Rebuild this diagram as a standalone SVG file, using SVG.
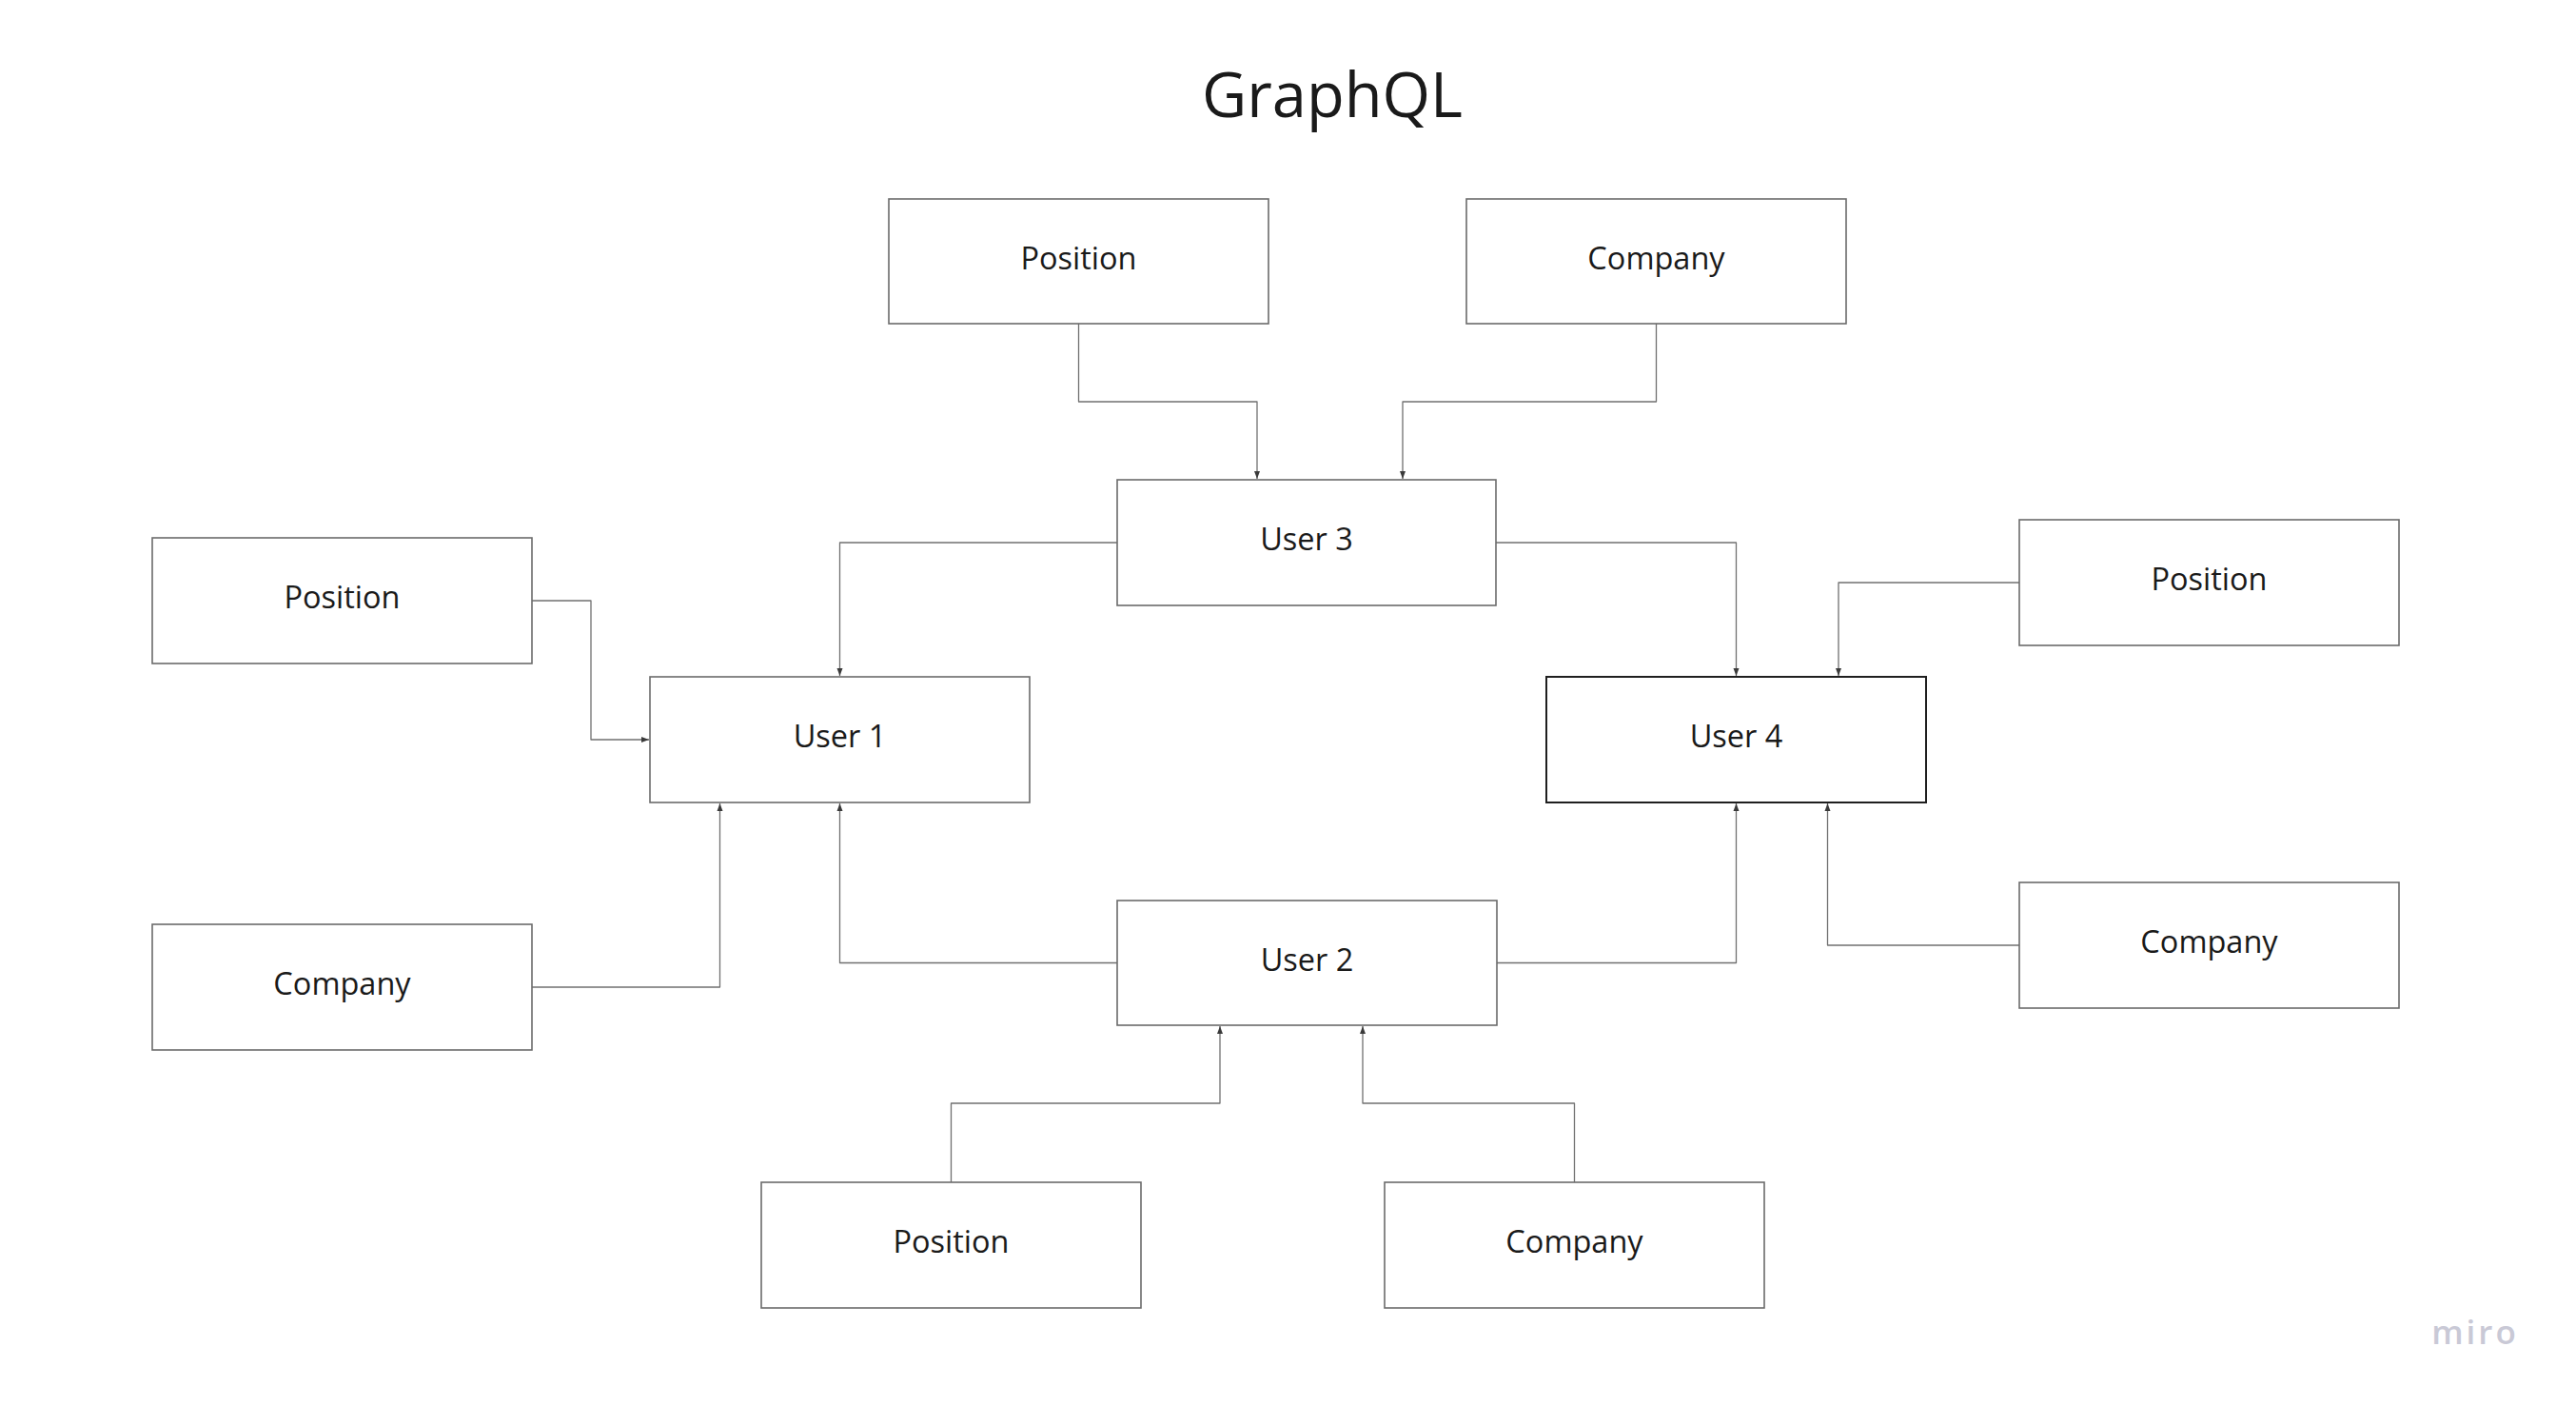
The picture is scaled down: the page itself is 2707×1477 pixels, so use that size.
<svg xmlns="http://www.w3.org/2000/svg" width="2707" height="1477" viewBox="0 0 2707 1477">
  <style>
    .box { fill: #ffffff; stroke: #6b6b6b; stroke-width: 1.6; }
    .box.dark { stroke: #1f1f1f; stroke-width: 2; }
    .lbl { font-family: "Open Sans", "Liberation Sans", sans-serif; font-size: 32.5px; fill: #1a1a1a; text-anchor: middle; }
    .title { font-family: "Open Sans", "Liberation Sans", sans-serif; font-size: 65px; fill: #1a1a1a; text-anchor: middle; }
    .logo { font-family: "Open Sans", "Liberation Sans", sans-serif; font-weight: 600; font-size: 35px; fill: #c9c9d6; text-anchor: middle; letter-spacing: 3px; }
    .conn { fill: none; stroke: #707070; stroke-width: 1.3; stroke-linejoin: round; marker-end: url(#arrow); }
  </style>
  <defs>
    <marker id="arrow" markerUnits="userSpaceOnUse" markerWidth="8" markerHeight="8" viewBox="0 0 8 8" refX="8" refY="4" orient="auto">
      <path d="M0,1 L8,4 L0,7 Z" fill="#3a3a3a"/>
    </marker>
  </defs>
  <rect width="2707" height="1477" fill="#ffffff"/>

  <text class="title" x="1400" y="123">GraphQL</text>

  <g id="connectors">
    <path class="conn" d="M1133.5 340 V422 H1321 V503"/>
    <path class="conn" d="M1740.5 340 V422 H1474 V503"/>
    <path class="conn" d="M1174 570 H882.5 V710"/>
    <path class="conn" d="M1572 570 H1824.5 V710"/>
    <path class="conn" d="M559 631 H621 V777 H682"/>
    <path class="conn" d="M559 1037 H756.5 V844"/>
    <path class="conn" d="M1174 1011.5 H882.5 V844"/>
    <path class="conn" d="M1573 1011.5 H1824.5 V844"/>
    <path class="conn" d="M2122 612 H1932 V710"/>
    <path class="conn" d="M2122 993 H1920.5 V844"/>
    <path class="conn" d="M999.5 1242 V1159 H1282 V1078"/>
    <path class="conn" d="M1654.5 1242 V1159 H1432 V1078"/>
  </g>

  <g id="position-top">
    <rect class="box" x="934" y="209" width="399" height="131"/>
    <text class="lbl" x="1133.5" y="283">Position</text>
  </g>
  <g id="company-top">
    <rect class="box" x="1541" y="209" width="399" height="131"/>
    <text class="lbl" x="1740.5" y="283">Company</text>
  </g>
  <g id="user3">
    <rect class="box" x="1174" y="504" width="398" height="132"/>
    <text class="lbl" x="1373" y="578">User 3</text>
  </g>
  <g id="position-left">
    <rect class="box" x="160" y="565" width="399" height="132"/>
    <text class="lbl" x="359.5" y="639">Position</text>
  </g>
  <g id="user1">
    <rect class="box" x="683" y="711" width="399" height="132"/>
    <text class="lbl" x="882.5" y="785">User 1</text>
  </g>
  <g id="user4">
    <rect class="box dark" x="1625" y="711" width="399" height="132"/>
    <text class="lbl" x="1824.5" y="785">User 4</text>
  </g>
  <g id="position-right">
    <rect class="box" x="2122" y="546" width="399" height="132"/>
    <text class="lbl" x="2321.5" y="620">Position</text>
  </g>
  <g id="company-left">
    <rect class="box" x="160" y="971" width="399" height="132"/>
    <text class="lbl" x="359.5" y="1045">Company</text>
  </g>
  <g id="company-right">
    <rect class="box" x="2122" y="927" width="399" height="132"/>
    <text class="lbl" x="2321.5" y="1001">Company</text>
  </g>
  <g id="user2">
    <rect class="box" x="1174" y="946" width="399" height="131"/>
    <text class="lbl" x="1373.5" y="1019.5">User 2</text>
  </g>
  <g id="position-bottom">
    <rect class="box" x="800" y="1242" width="399" height="132"/>
    <text class="lbl" x="999.5" y="1316">Position</text>
  </g>
  <g id="company-bottom">
    <rect class="box" x="1455" y="1242" width="399" height="132"/>
    <text class="lbl" x="1654.5" y="1316">Company</text>
  </g>

  <text class="logo" x="2601" y="1412">miro</text>
</svg>
